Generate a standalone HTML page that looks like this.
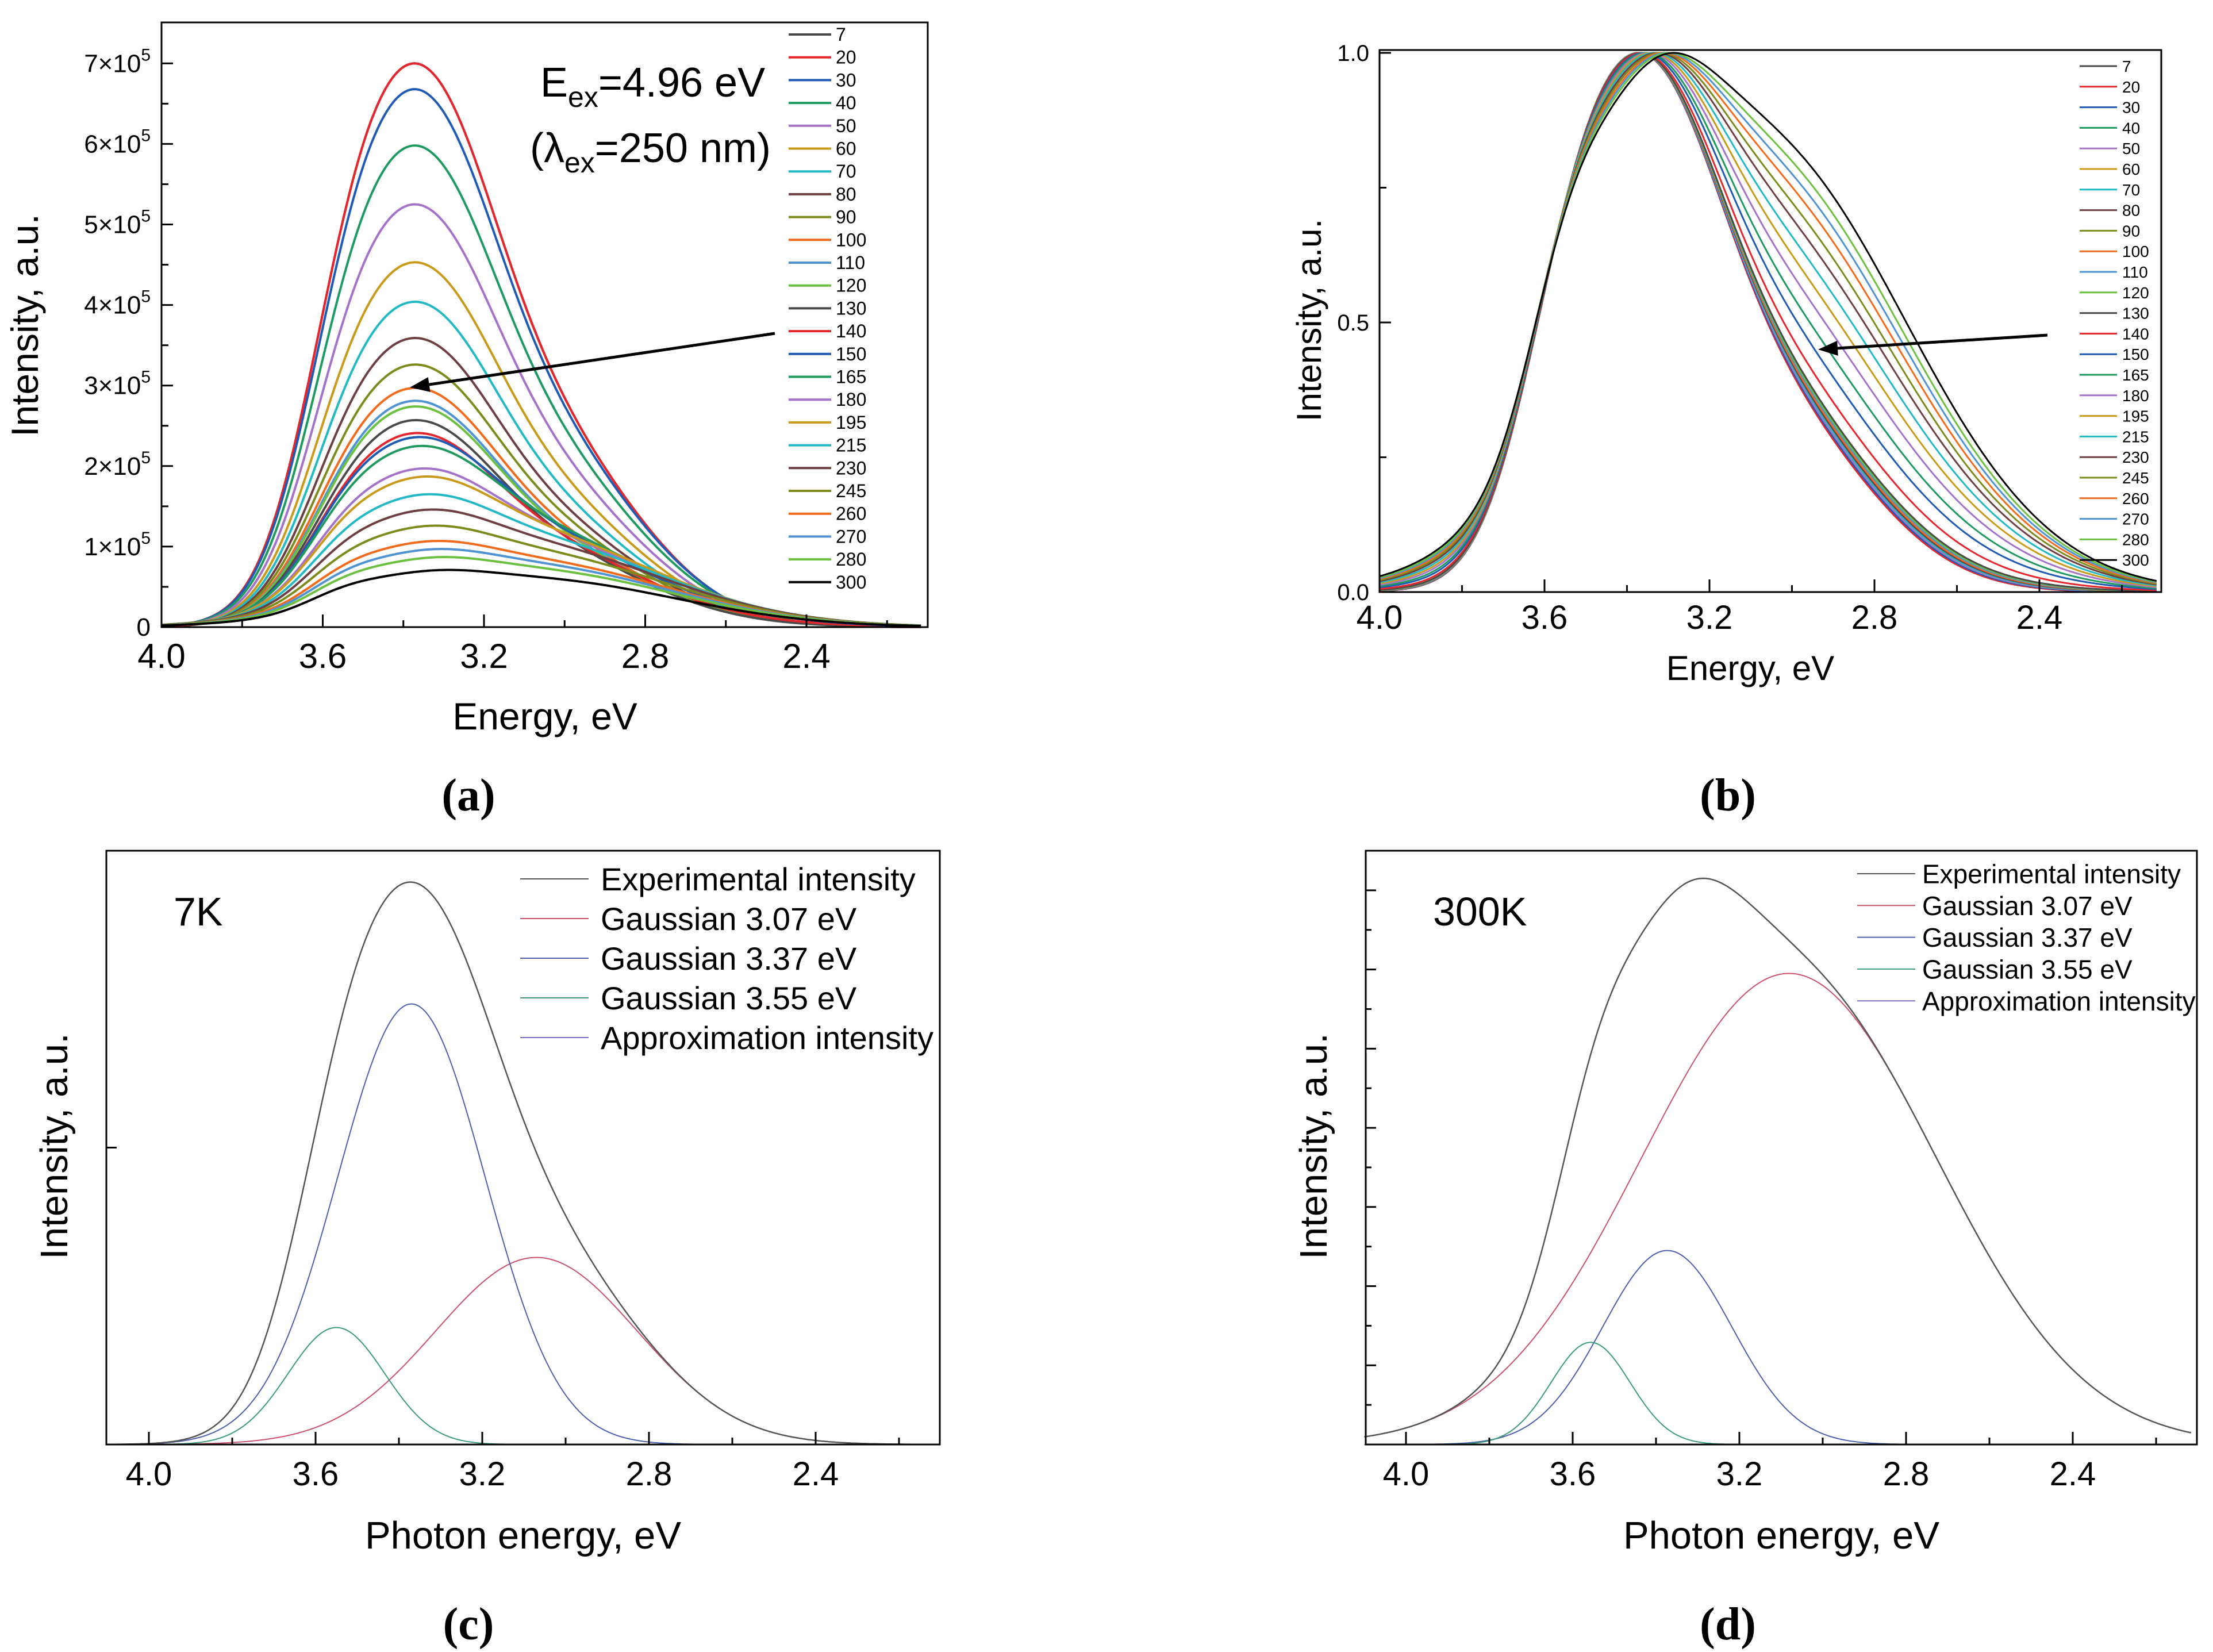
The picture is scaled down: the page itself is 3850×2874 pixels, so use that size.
<!DOCTYPE html>
<html><head><meta charset="utf-8"><style>
html,body{margin:0;padding:0;background:#fff}
svg{display:block}
text{font-family:"Liberation Sans",sans-serif;fill:#000}
.serif{font-family:"Liberation Serif",serif;font-weight:bold}
</style></head><body>
<svg id="fig" width="3850" height="2874" viewBox="0 0 3850 2874" xmlns="http://www.w3.org/2000/svg">
<g id="pa"></g>
<g id="pb"></g>
<g id="pc"></g>
<g id="pd"></g>
</svg>
<script>
// ---- data ----
const temps = ["7","20","30","40","50","60","70","80","90","100","110","120","130","140","150","165","180","195","215","230","245","260","270","280","300"];
const peakA = [7.0,7.0,6.68,5.98,5.25,4.53,4.04,3.59,3.26,2.97,2.81,2.74,2.57,2.41,2.36,2.25,1.97,1.87,1.65,1.46,1.26,1.07,0.97,0.87,0.71];
const mixB = [0,0,0.01,0.02,0.02,0.03,0.03,0.04,0.05,0.05,0.06,0.07,0.08,0.15,0.25,0.33,0.42,0.5,0.58,0.66,0.73,0.8,0.86,0.92,1.0];
const colors = ["#4a4a4a","#e5262c","#1f5bb5","#1f9a5f","#a472c8","#c99a1a","#22b8c4","#6e3f42","#7d8a1c","#f26b1c","#4f93d2","#6cc040","#4a4a4a","#e5262c","#1f5bb5","#1f9a5f","#a472c8","#c99a1a","#22b8c4","#6e3f42","#7d8a1c","#f26b1c","#4f93d2","#6cc040","#000000"];
const centers7 = [3.55,3.37,3.07];
const amps7 = [0.197,0.742,0.315];
const sig7 = [0.116,0.177,0.242];
const centers300 = [3.557,3.373,3.081];
const amps300 = [1.29,2.45,5.95];
const sig300 = [0.095,0.155,0.355];
const xTicks = ["4.0","3.6","3.2","2.8","2.4"];
const yTicksA = ["0","1","2","3","4","5","6","7"];
const yTicksB = ["0.0","0.5","1.0"];
const legC = ["Experimental intensity","Gaussian 3.07 eV","Gaussian 3.37 eV","Gaussian 3.55 eV","Approximation intensity"];

const NS="http://www.w3.org/2000/svg";
function mk(parent,tag,attrs,txt){const e=document.createElementNS(NS,tag);for(const k in attrs)e.setAttribute(k,attrs[k]);if(txt!==undefined)e.textContent=txt;parent.appendChild(e);return e;}
function gauss(E,c,a,s){return a*Math.exp(-(E-c)*(E-c)/(2*s*s));}
function comp(E,cs,as,ss){let t=0;for(let i=0;i<cs.length;i++)t+=gauss(E,cs[i],as[i],ss[i]);return t;}
const Es=[];for(let E=4.1;E>=2.115;E-=0.004)Es.push(E);
function maxOf(f){let m=0;for(const E of Es)m=Math.max(m,f(E));return m;}
const m7=maxOf(E=>comp(E,centers7,amps7,sig7));
const m300=maxOf(E=>comp(E,centers300,amps300,sig300));
function shape(f){const g=E=>(1-f)*comp(E,centers7,amps7,sig7)/m7+f*comp(E,centers300,amps300,sig300)/m300;const m=maxOf(g);return E=>g(E)/m;}
function pathOf(fn,X,Y,Emax){let d="";let first=true;for(const E of Es){if(E>Emax+1e-9)continue;const x=X(E),y=Y(fn(E));d+=(first?"M":"L")+x.toFixed(1)+","+y.toFixed(1);first=false;}return d;}
function arrow(g,x1,y1,x2,y2){
  const a=mk(g,"g",{});
  
  
  const dx=x2-x1,dy=y2-y1,L=Math.hypot(dx,dy),ux=dx/L,uy=dy/L,hl=34,hw=13;
  const bx=x2-ux*hl,by=y2-uy*hl;
  mk(a,"line",{x1:x1,y1:y1,x2:bx,y2:by,stroke:"#000","stroke-width":5});
  mk(a,"polygon",{points:x2+","+y2+" "+(bx-uy*hw)+","+(by+ux*hw)+" "+(bx+uy*hw)+","+(by-ux*hw),fill:"#000"});
}

function frame(g,x0,y0,x1,y1){
  const r=mk(g,"rect",{x:x0,y:y0,width:x1-x0,height:y1-y0,fill:"none",stroke:"#000","stroke-width":3});
  
  
}
function xAxis(g,X,yb,lblY,fs){
  [3.8,3.4,3.0,2.6,2.2].forEach(v=>{mk(g,"line",{x1:X(v),x2:X(v),y1:yb,y2:yb-12,stroke:"#000","stroke-width":3});});
  xTicks.forEach(t=>{const v=parseFloat(t);mk(g,"line",{x1:X(v),x2:X(v),y1:yb,y2:yb-22,stroke:"#000","stroke-width":3});
    const tx=mk(g,"text",{x:X(v),y:lblY,"font-size":fs,"text-anchor":"middle"},t);
    
    });
}
function txt(g,name,attrs,s){const t=mk(g,"text",attrs,s);return t;}

// ---- panel a ----
(function(){
  const g=document.getElementById("pa");
  const X=E=>281+(4.0-E)/0.4*280.5, Y=v=>1091-v*140.1;
  for(let i=0;i<temps.length;i++){
    const s=shape(mixB[i]);
    const p=mk(g,"path",{d:pathOf(E=>peakA[i]*s(E),X,Y,4.0),fill:"none",stroke:colors[i],"stroke-width":4});
    
    
  }
  frame(g,281,39,1614,1091);
  xAxis(g,X,1091,1162,60);
  for(let k=0;k<15;k++){const v=k*0.5;const major=k%2===0;mk(g,"line",{x1:281,x2:281+(major?20:12),y1:Y(v),y2:Y(v),stroke:"#000","stroke-width":3});}
  yTicksA.forEach(t=>{const v=parseFloat(t);const tx=txt(g,'y-tick-label',{x:262,y:Y(v)+15,"font-size":44,"text-anchor":"end"},v===0?"0":"");
    if(v>0){mk(tx,"tspan",{},t+"×10");mk(tx,"tspan",{"font-size":30,dy:-20},"5");}});
  txt(g,'x-axis-title',{x:948,y:1269,"font-size":66,"text-anchor":"middle"},"Energy, eV");
  txt(g,'y-axis-title',{x:0,y:0,"font-size":66,"text-anchor":"middle",transform:"translate(66,566) rotate(-90)"},"Intensity, a.u.");
  const a1=txt(g,'excitation-energy-label',{x:940,y:168,"font-size":72});
  mk(a1,"tspan",{},"E");mk(a1,"tspan",{"font-size":50,dy:18},"ex");mk(a1,"tspan",{dy:-18},"=4.96 eV");
  const a2=txt(g,'excitation-wavelength-label',{x:922,y:282,"font-size":72});
  mk(a2,"tspan",{},"(λ");mk(a2,"tspan",{"font-size":50,dy:18},"ex");mk(a2,"tspan",{dy:-18},"=250 nm)");
  arrow(g,1348,580,713,674);
  for(let i=0;i<temps.length;i++){const y=60+i*39.7;
    const le=mk(g,"g",{});
    
    
    mk(le,"line",{x1:1372,x2:1446,y1:y,y2:y,stroke:colors[i],"stroke-width":4});
    mk(le,"text",{x:1454,y:y+11,"font-size":32},temps[i]);}
  txt(g,'panel-label-a',{x:815,y:1410,"font-size":80,"text-anchor":"middle","class":"serif"},"(a)");
})();

// ---- panel b ----
(function(){
  const g=document.getElementById("pb");
  const X=E=>2400+(4.0-E)/0.4*287, Y=v=>1030-v*938;
  for(let i=0;i<temps.length;i++){
    const s=shape(mixB[i]);
    const p=mk(g,"path",{d:pathOf(E=>s(E),X,Y,4.0),fill:"none",stroke:colors[i],"stroke-width":3});
    
    
  }
  frame(g,2400,87,3760,1030);
  xAxis(g,X,1030,1094,58);
  [0.25,0.75].forEach(v=>mk(g,"line",{x1:2400,x2:2412,y1:Y(v),y2:Y(v),stroke:"#000","stroke-width":3}));
  yTicksB.forEach(t=>{const v=parseFloat(t);mk(g,"line",{x1:2400,x2:2420,y1:Y(v),y2:Y(v),stroke:"#000","stroke-width":3});
    txt(g,'y-tick-label',{x:2382,y:Y(v)+14,"font-size":40,"text-anchor":"end"},t);});
  txt(g,'x-axis-title',{x:3045,y:1183,"font-size":60,"text-anchor":"middle"},"Energy, eV");
  txt(g,'y-axis-title',{x:0,y:0,"font-size":60,"text-anchor":"middle",transform:"translate(2298,557) rotate(-90)"},"Intensity, a.u.");
  arrow(g,3562,583,3163,608);
  for(let i=0;i<temps.length;i++){const y=115+i*35.8;
    const le=mk(g,"g",{});
    
    
    mk(le,"line",{x1:3618,x2:3683,y1:y,y2:y,stroke:colors[i],"stroke-width":3});
    mk(le,"text",{x:3692,y:y+10,"font-size":28},temps[i]);}
  txt(g,'panel-label-b',{x:3006,y:1410,"font-size":80,"text-anchor":"middle","class":"serif"},"(b)");
})();

// ---- panels c, d ----
function fitPanel(id,x0,x1,E4x,yTop,yBot,cs,as,ss,yMax,ticksMajor,label,labelX,legX,legY,legStep,legFs,lineX0,lineX1,tag){
  const g=document.getElementById(id);
  const X=E=>E4x+(4.0-E)/0.4*290, Y=v=>yBot-v/yMax*(yBot-yTop);
  const cols=["#555","#c8506a","#4a5fb0","#3a9a7a","#7a6ac0"];
  const total=E=>comp(E,cs,as,ss);
  const series=[total,E=>gauss(E,cs[2],as[2],ss[2]),E=>gauss(E,cs[1],as[1],ss[1]),E=>gauss(E,cs[0],as[0],ss[0]),total];
  const names=["experimental","gaussian-307","gaussian-337","gaussian-355","approximation"];
  [1,2,3,4,0].forEach(i=>{const p=mk(g,"path",{d:pathOf(series[i],X,Y,4.1),fill:"none",stroke:cols[i],"stroke-width":i===0?2.5:2});
    
    });
  frame(g,x0,yTop,x1,yBot);
  xAxis(g,X,yBot,2584,58);
  ticksMajor.forEach(v=>mk(g,"line",{x1:x0,x2:x0+18,y1:Y(v),y2:Y(v),stroke:"#000","stroke-width":3}));
  if(tag==="d"){for(let k=0;k<7;k++){const v=k+0.5;mk(g,"line",{x1:x0,x2:x0+10,y1:Y(v),y2:Y(v),stroke:"#000","stroke-width":3});}}
  txt(g,'x-axis-title',{x:(x0+x1)/2-0,y:2694,"font-size":67,"text-anchor":"middle"},"Photon energy, eV");
  txt(g,'y-axis-title',{x:0,y:0,"font-size":67,"text-anchor":"middle",transform:"translate("+(x0-68)+",1994) rotate(-90)"},"Intensity, a.u.");
  txt(g,'temperature-label',{x:labelX,y:1610,"font-size":70},label);
  legC.forEach((t,i)=>{const y=legY+i*legStep;
    const le=mk(g,"g",{});
    
    
    mk(le,"line",{x1:lineX0,x2:lineX1,y1:y,y2:y,stroke:cols[i],"stroke-width":2});
    mk(le,"text",{x:legX,y:y+legFs*0.36,"font-size":legFs},t);});
}
fitPanel("pc",185,1635,259,1480,2513,centers7,amps7,sig7,1.0,[0.5],"7K",302,1045,1529,69,56,905,1024,"c");
fitPanel("pd",2376,3822,2446,1480,2513,centers300,amps300,sig300,7.5,[1,2,3,4,5,6,7],"300K",2493,3344,1520,55.3,46,3231,3332,"d");
(function(){
  const g=document.getElementById("pc");
  txt(g,'panel-label-c',{x:815,y:2852,"font-size":80,"text-anchor":"middle","class":"serif"},"(c)");
  const h=document.getElementById("pd");
  txt(h,'panel-label-d',{x:3006,y:2852,"font-size":80,"text-anchor":"middle","class":"serif"},"(d)");
})();
</script>
</body></html>
